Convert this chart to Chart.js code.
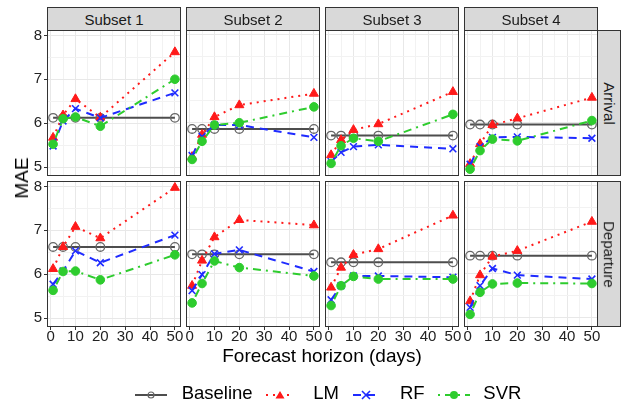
<!DOCTYPE html>
<html>
<head>
<meta charset="utf-8">
<script src="https://cdn.jsdelivr.net/npm/chart.js@4/dist/chart.umd.min.js"></script>
<style>
  body { margin: 0; width: 624px; height: 405px; position: relative; overflow: hidden; background: #fff;
         font-family: "Liberation Sans", Arial, sans-serif; color: #1a1a1a; }
  canvas { position: absolute; }
  .border { position: absolute; box-sizing: border-box; border: 1px solid #333; pointer-events: none; }
  .strip { position: absolute; box-sizing: border-box; border: 1px solid #333; background: #d9d9d9;
           font-size: 15px; display: flex; align-items: center; justify-content: center; }
  .strip.side span { transform: rotate(90deg); white-space: nowrap; }
  .title { position: absolute; font-size: 19px; color: #000; white-space: nowrap; }
  .leg { position: absolute; font-size: 18.5px; color: #000; top: 382px; line-height: 22px; }
</style>
</head>
<body>
<script>
const horizons = [1, 5, 10, 20, 50];
const subsets = ['Subset 1', 'Subset 2', 'Subset 3', 'Subset 4'];
const directions = ['Arrival', 'Departure'];
const models = ['Baseline', 'LM', 'RF', 'SVR'];

const xTicks = [0, 10, 20, 30, 40, 50];
const xMinor = [5, 15, 25, 35, 45];
const yTicks = [5, 6, 7, 8];
const yMinor = [5.5, 6.5, 7.5];

// MAE, one row per subset, one value per horizon
const baselineArrival = [
  [6.12, 6.12, 6.12, 6.12, 6.12],
  [5.86, 5.86, 5.86, 5.86, 5.86],
  [5.71, 5.71, 5.71, 5.71, 5.71],
  [5.96, 5.96, 5.96, 5.96, 5.96]
];
const lmArrival = [
  [5.67, 6.18, 6.55, 6.13, 7.62],
  [5.23, 5.73, 6.13, 6.40, 6.66],
  [5.27, 5.61, 5.84, 5.97, 6.70],
  [5.07, 5.52, 5.95, 6.10, 6.57]
];
const rfArrival = [
  [5.48, 6.05, 6.33, 6.12, 6.69],
  [5.26, 5.69, 5.95, 5.95, 5.67],
  [5.12, 5.33, 5.46, 5.50, 5.41],
  [5.06, 5.46, 5.67, 5.68, 5.65]
];
const svrArrival = [
  [5.52, 6.10, 6.14, 5.93, 7.00],
  [5.17, 5.58, 5.95, 6.00, 6.36],
  [5.08, 5.48, 5.65, 5.58, 6.19],
  [4.95, 5.37, 5.63, 5.59, 6.05]
];
const baselineDeparture = [
  [6.62, 6.62, 6.62, 6.62, 6.62],
  [6.44, 6.44, 6.44, 6.44, 6.44],
  [6.26, 6.26, 6.26, 6.26, 6.26],
  [6.41, 6.41, 6.41, 6.41, 6.41]
];
const lmDeparture = [
  [6.12, 6.62, 7.08, 6.82, 7.97],
  [5.73, 6.30, 6.83, 7.22, 7.10],
  [5.69, 6.14, 6.43, 6.56, 7.32],
  [5.38, 5.97, 6.39, 6.52, 7.18]
];
const rfDeparture = [
  [5.77, 6.07, 6.53, 6.26, 6.89],
  [5.62, 5.98, 6.45, 6.54, 6.05],
  [5.41, 5.73, 5.95, 5.95, 5.92],
  [5.24, 5.73, 6.12, 5.97, 5.88]
];
const svrDeparture = [
  [5.63, 6.06, 6.07, 5.87, 6.44],
  [5.34, 5.78, 6.29, 6.14, 5.95],
  [5.28, 5.73, 5.94, 5.88, 5.88],
  [5.08, 5.58, 5.77, 5.79, 5.78]
];

const series = [
  [baselineArrival, lmArrival, rfArrival, svrArrival],
  [baselineDeparture, lmDeparture, rfDeparture, svrDeparture]
];

// looks
const colors = ['#4d4d4d', '#ff1a1a', '#1f2bff', '#2ecc2e'];
const dashes = [[], [2, 5], [8, 6], [2, 5, 8, 5]];
const pointStyles = ['circle', 'triangle', 'crossRot', 'circle'];

// layout of the facet grid
const colLeft = [47, 186, 325, 464];
const rowTop = [30, 181];
const PW = 134, PH = 146;
const WY = 40, HX = 24, PT = 10, PR = 12;

function add(tag, cls, style, html) {
  const el = document.createElement(tag);
  if (cls) el.className = cls;
  Object.assign(el.style, style);
  if (html) el.innerHTML = html;
  document.body.appendChild(el);
  return el;
}

function makePanel(r, c) {
  const canvas = document.createElement('canvas');
  canvas.width = WY + PW + PR;
  canvas.height = PT + PH + HX;
  canvas.style.left = (colLeft[c] - WY) + 'px';
  canvas.style.top = (rowTop[r] - PT) + 'px';
  document.body.appendChild(canvas);

  const showY = c === 0, showX = r === 1;

  const datasets = models.map((m, i) => ({
    label: m,
    data: horizons.map((h, k) => ({ x: h, y: series[r][i][c][k] })),
    borderColor: colors[i],
    backgroundColor: i === 0 ? 'rgba(0,0,0,0)' : colors[i],
    borderWidth: 2,
    borderDash: dashes[i],
    pointStyle: pointStyles[i],
    pointRadius: i === 1 ? 5.2 : (i === 2 ? 4.8 : 4.3),
    pointBorderWidth: i === 0 ? 1.3 : (i === 2 ? 1.6 : 1),
    pointBorderColor: i === 0 ? '#666' : colors[i],
    pointBackgroundColor: i === 0 ? 'rgba(0,0,0,0)' : colors[i],
    tension: 0,
    order: 4 - i
  }));

  const gridColor = (majors) => (ctx) => majors.includes(ctx.tick.value) ? '#e8e8e8' : '#f2f2f2';
  const tickFont = { family: '"Liberation Sans", Arial, sans-serif', size: 15 };

  new Chart(canvas, {
    type: 'line',
    data: { datasets },
    options: {
      responsive: false,
      animation: false,
      events: [],
      layout: { padding: { top: PT, right: PR, left: 0, bottom: 0 } },
      plugins: { legend: { display: false }, tooltip: { enabled: false } },
      scales: {
        x: {
          type: 'linear', min: -1.45, max: 52.45,
          afterBuildTicks: s => { s.ticks = [...xTicks, ...xMinor].sort((a, b) => a - b).map(v => ({ value: v })); },
          afterFit: s => { s.height = HX; },
          ticks: { display: showX, padding: -2, color: '#222', font: tickFont, maxRotation: 0,
                   autoSkip: false, callback: v => xTicks.includes(v) ? String(v) : '' },
          grid: { color: gridColor(xTicks), lineWidth: 1, drawTicks: showX, tickLength: 3,
                  tickColor: ctx => xTicks.includes(ctx.tick.value) ? '#333' : 'rgba(0,0,0,0)' },
          border: { display: false }
        },
        y: {
          type: 'linear', min: 4.795, max: 8.1,
          afterBuildTicks: s => { s.ticks = [...yTicks, ...yMinor].sort((a, b) => a - b).map(v => ({ value: v })); },
          afterFit: s => { s.width = WY; },
          ticks: { display: showY, padding: 2, color: '#222', font: tickFont,
                   autoSkip: false, callback: v => yTicks.includes(v) ? String(v) : '' },
          grid: { color: gridColor(yTicks), lineWidth: 1, drawTicks: showY, tickLength: 3,
                  tickColor: ctx => yTicks.includes(ctx.tick.value) ? '#333' : 'rgba(0,0,0,0)' },
          border: { display: false }
        }
      }
    }
  });

  add('div', 'border', { left: colLeft[c] + 'px', top: rowTop[r] + 'px', width: PW + 'px', height: PH + 'px' });
}

for (let r = 0; r < directions.length; r++) {
  for (let c = 0; c < subsets.length; c++) makePanel(r, c);
}

// facet strips
subsets.forEach((s, c) => {
  add('div', 'strip', { left: colLeft[c] + 'px', top: '7px', width: PW + 'px', height: '24px' }, s);
});
directions.forEach((d, r) => {
  add('div', 'strip side', { left: (colLeft[3] + PW - 1) + 'px', top: rowTop[r] + 'px', width: '24px', height: PH + 'px' },
      '<span>' + d + '</span>');
});

// axis titles
add('div', 'title', { left: '22px', top: '178px', transform: 'translate(-50%,-50%) rotate(-90deg)' }, 'MAE');
add('div', 'title', { left: '322px', top: '356px', transform: 'translate(-50%,-50%)' }, 'Forecast horizon (days)');

// legend
const legKeys = [
  { x: 135, w: 32, text: 181.7 },
  { x: 266, w: 28, text: 313.3 },
  { x: 353, w: 26, text: 400 },
  { x: 438, w: 32, text: 483.3 }
];
models.forEach((m, i) => {
  const k = legKeys[i];
  const mid = k.w / 2;
  let mark;
  if (i === 0) mark = `<circle cx="${mid}" cy="6" r="3" fill="none" stroke="#666" stroke-width="1.2"/>`;
  else if (i === 1) mark = `<polygon points="${mid - 4.5},9.5 ${mid + 4.5},9.5 ${mid},2" fill="${colors[1]}"/>`;
  else if (i === 2) mark = `<path d="M${mid - 4},2 L${mid + 4},10 M${mid + 4},2 L${mid - 4},10" stroke="${colors[2]}" stroke-width="1.6"/>`;
  else mark = `<circle cx="${mid}" cy="6" r="4" fill="${colors[3]}"/>`;
  const dash = dashes[i].length ? `stroke-dasharray="${dashes[i].join(' ')}"` : '';
  add('div', '', { position: 'absolute', left: k.x + 'px', top: '387px', width: k.w + 'px', height: '12px' },
      `<svg width="${k.w}" height="12"><line x1="0" y1="6" x2="${k.w}" y2="6" stroke="${colors[i]}" stroke-width="2" ${dash}/>${mark}</svg>`);
  add('div', 'leg', { left: k.text + 'px' }, m);
});
</script>
</body>
</html>
